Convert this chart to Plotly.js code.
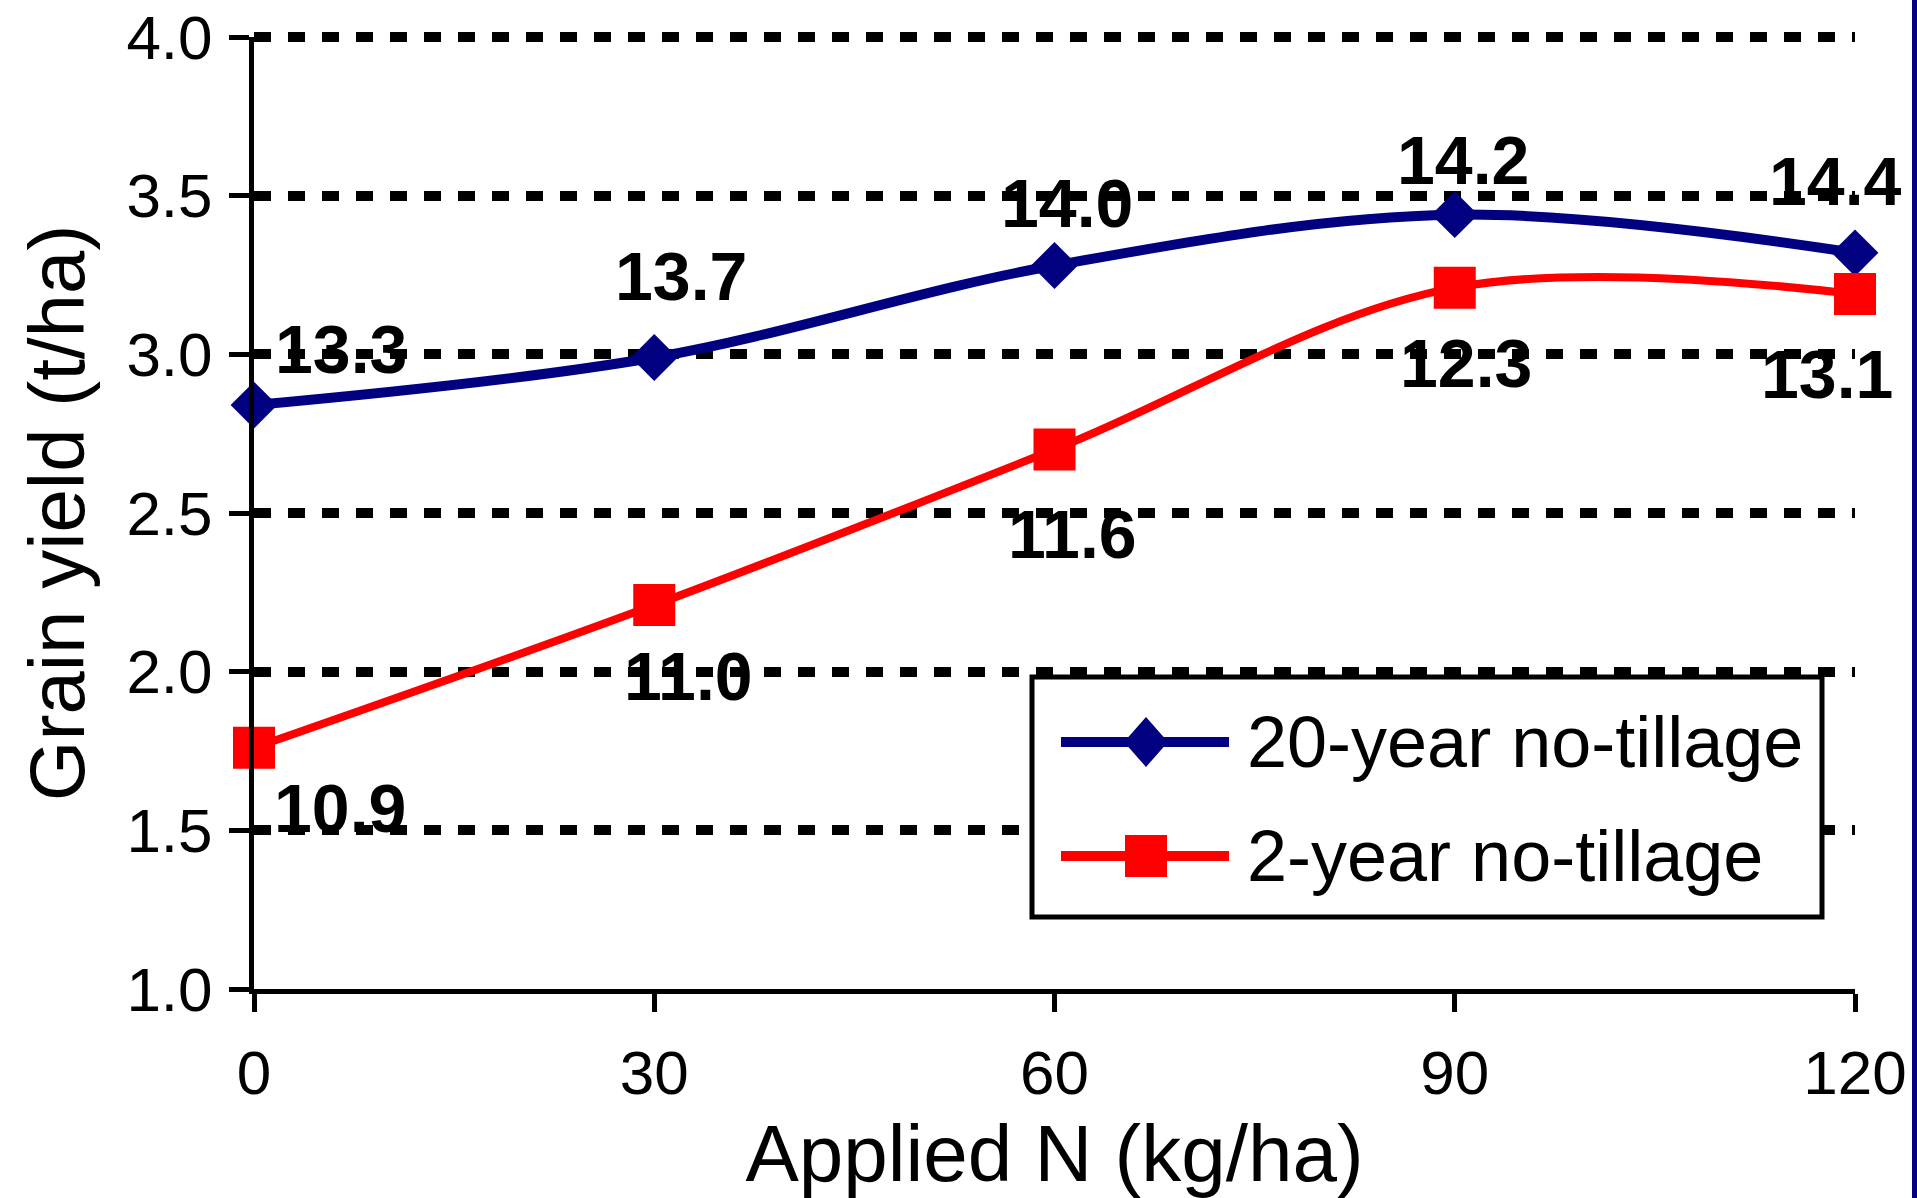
<!DOCTYPE html>
<html>
<head>
<meta charset="utf-8">
<script src="https://cdn.plot.ly/plotly-3.0.1.min.js"></script>
<style>html,body{margin:0;padding:0;background:#fff;}#chart{width:1917px;height:1198px;}</style>
</head>
<body>
<div id="chart"></div>
<script>
// ---- data ----
const appliedN = [0, 30, 60, 90, 120];
const yield20 = [2.84, 2.99, 3.28, 3.44, 3.32];
const yield2 = [1.76, 2.21, 2.70, 3.21, 3.19];
const labels20 = ['13.3', '13.7', '14.0', '14.2', '14.4'];
const labels2 = ['10.9', '11.0', '11.6', '12.3', '13.1'];
const name20 = '20-year no-tillage';
const name2 = '2-year no-tillage';
const xTicks = [0, 30, 60, 90, 120];
const yTicks = [1.0, 1.5, 2.0, 2.5, 3.0, 3.5, 4.0];

// ---- layout constants ----
const W = 1917, H = 1198;
const M = {l: 254, r: 62, t: 37, b: 209};
const PW = W - M.l - M.r, PH = H - M.t - M.b;
const px2x = p => (p - M.l) / PW;
const px2y = p => (H - M.b - p) / PH;
const FONT = 'Liberation Sans, Arial, Helvetica, sans-serif';
const NAVY = '#000080', RED = '#FF0000';
const GRID_DASH = '17px,17px';
const GRID_W = 10;

// label pixel offsets (screen px: dx right, dy down)
const off20 = [[87, -56], [27, -82], [12, -62], [8, -55], [-20, -72]];
const off2 = [[86, 60], [34, 71], [18, 84], [11, 75], [-28, 80]];

const traces = [
  {
    x: appliedN, y: yield20, name: name20, type: 'scatter', mode: 'lines+markers',
    line: {color: NAVY, width: 10, shape: 'spline', smoothing: 1},
    marker: {symbol: 'diamond', size: 36, color: NAVY, line: {width: 0}},
    cliponaxis: false, hoverinfo: 'x+y'
  },
  {
    x: appliedN, y: yield2, name: name2, type: 'scatter', mode: 'lines+markers',
    line: {color: RED, width: 8, shape: 'spline', smoothing: 1},
    marker: {symbol: 'square', size: 42, color: RED, line: {width: 0}},
    cliponaxis: false, hoverinfo: 'x+y'
  }
];

const annotations = [];
appliedN.forEach((xv, i) => {
  annotations.push({x: xv, y: yield20[i], xref: 'x', yref: 'y', text: '<b>' + labels20[i] + '</b>',
    showarrow: false, xanchor: 'center', yanchor: 'middle',
    xshift: off20[i][0], yshift: -off20[i][1], font: {family: FONT, size: 68, color: '#000'}});
  annotations.push({x: xv, y: yield2[i], xref: 'x', yref: 'y', text: '<b>' + labels2[i] + '</b>',
    showarrow: false, xanchor: 'center', yanchor: 'middle',
    xshift: off2[i][0], yshift: -off2[i][1], font: {family: FONT, size: 68, color: '#000'}});
});

// custom legend
const legL = 1032, legT = 677, legR = 1822, legB = 917;
const row1 = 742, row2 = 856, lineX0 = 1061, lineX1 = 1229, symX = 1146, textX = 1245;
annotations.push({x: px2x(textX), y: px2y(row1), xref: 'paper', yref: 'paper', text: name20,
  showarrow: false, xanchor: 'left', yanchor: 'middle', font: {family: FONT, size: 72, color: '#000'}});
annotations.push({x: px2x(textX), y: px2y(row2), xref: 'paper', yref: 'paper', text: name2,
  showarrow: false, xanchor: 'left', yanchor: 'middle', font: {family: FONT, size: 72, color: '#000'}});

const shapes = [
  // top gridline at 4.0 (plotly omits grid at the plot edge); paper refs so it is not clipped
  {type: 'line', xref: 'paper', yref: 'paper', x0: 0, x1: 1, y0: 1, y1: 1,
    line: {color: '#000', width: GRID_W, dash: GRID_DASH}, layer: 'below'},
  {type: 'rect', xref: 'paper', yref: 'paper', x0: px2x(legL), x1: px2x(legR), y0: px2y(legB), y1: px2y(legT),
    fillcolor: '#fff', line: {color: '#000', width: 5}, layer: 'above'},
  {type: 'line', xref: 'paper', yref: 'paper', x0: px2x(lineX0), x1: px2x(lineX1), y0: px2y(row1), y1: px2y(row1),
    line: {color: NAVY, width: 10}, layer: 'above'},
  {type: 'path', xref: 'paper', yref: 'paper', xsizemode: 'pixel', ysizemode: 'pixel',
    xanchor: px2x(symX), yanchor: px2y(row1), path: 'M-22,0 L0,25 L22,0 L0,-25 Z',
    fillcolor: NAVY, line: {width: 0}, layer: 'above'},
  {type: 'line', xref: 'paper', yref: 'paper', x0: px2x(lineX0), x1: px2x(lineX1), y0: px2y(row2), y1: px2y(row2),
    line: {color: RED, width: 10}, layer: 'above'},
  {type: 'rect', xref: 'paper', yref: 'paper', xsizemode: 'pixel', ysizemode: 'pixel',
    xanchor: px2x(symX), yanchor: px2y(row2), x0: -21, x1: 21, y0: -21, y1: 21,
    fillcolor: RED, line: {width: 0}, layer: 'above'},
  // navy edge on the right
  {type: 'rect', xref: 'paper', yref: 'paper', x0: px2x(1912), x1: px2x(1918), y0: px2y(H + 2), y1: px2y(-2),
    fillcolor: NAVY, line: {width: 0}, layer: 'above'}
];

const layout = {
  width: W, height: H,
  margin: {l: M.l, r: M.r, t: M.t, b: M.b, pad: 0},
  paper_bgcolor: '#fff', plot_bgcolor: '#fff',
  showlegend: false,
  font: {family: FONT, color: '#000'},
  xaxis: {
    range: [0, 120], tickvals: xTicks, ticktext: xTicks.map(String),
    ticks: 'outside', ticklen: 18, tickwidth: 5, tickcolor: '#000',
    showline: true, linewidth: 5, linecolor: '#000', showgrid: false, zeroline: false,
    tickfont: {family: FONT, size: 62, color: '#000'}, ticklabelstandoff: 8,
    title: {text: 'Applied N (kg/ha)', font: {family: FONT, size: 80, color: '#000'}, standoff: 44},
    automargin: false, fixedrange: true
  },
  yaxis: {
    range: [1, 4], tickvals: yTicks, ticktext: yTicks.map(v => v.toFixed(1)),
    ticks: 'outside', ticklen: 20, tickwidth: 5, tickcolor: '#000',
    showline: true, linewidth: 5, linecolor: '#000', zeroline: false,
    showgrid: true, gridcolor: '#000', gridwidth: GRID_W, griddash: GRID_DASH,
    tickfont: {family: FONT, size: 62, color: '#000'}, ticklabelstandoff: 4,
    title: {text: 'Grain yield (t/ha)', font: {family: FONT, size: 78, color: '#000'}, standoff: 18},
    automargin: false, fixedrange: true
  },
  annotations: annotations,
  shapes: shapes
};

Plotly.newPlot('chart', traces, layout, {displayModeBar: false, staticPlot: true});
</script>
</body>
</html>
